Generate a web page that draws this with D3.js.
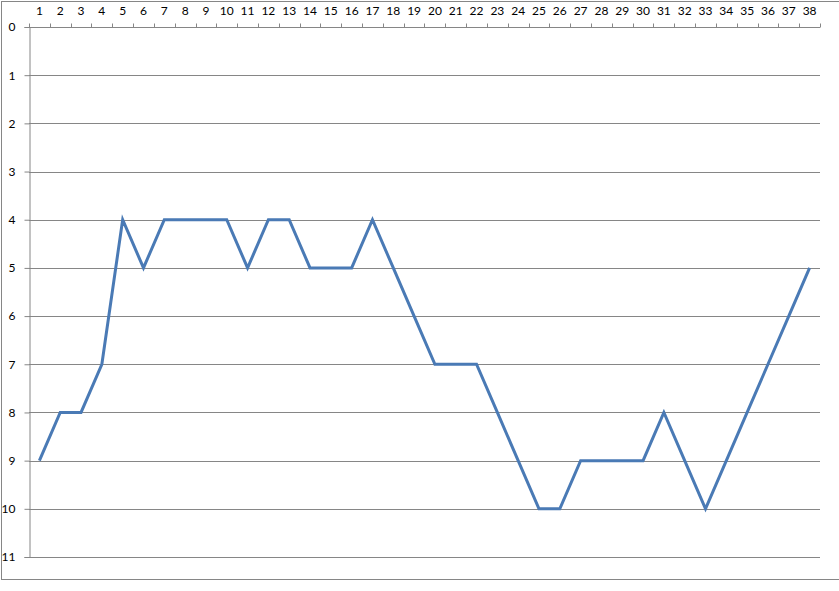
<!DOCTYPE html>
<html>
<head>
<meta charset="utf-8">
<script src="https://cdn.jsdelivr.net/npm/d3@7"></script>
<style>
  body { margin: 0; background: #fff; }
  svg { display: block; font-family: Lato, "Open Sans", sans-serif; }
</style>
</head>
<body>
<script>
const categories = d3.range(1, 39);
const values = [9, 8, 8, 7, 4, 5, 4, 4, 4, 4, 5, 4, 4, 5, 5, 5, 4, 5, 6, 7,
                7, 7, 8, 9, 10, 10, 9, 9, 9, 9, 8, 9, 10, 9, 8, 7, 6, 5];
const yTicks = d3.range(0, 12);

const width = 839, height = 591;
const margin = {top: 27, right: 19, bottom: 34, left: 29};

const svg = d3.select('body').append('svg')
  .attr('width', width)
  .attr('height', height);

// chart area border
svg.append('rect')
  .attr('x', 1.5).attr('y', 1.5)
  .attr('width', width + 10).attr('height', 578)
  .attr('fill', 'none')
  .attr('stroke', '#868686');

const x = d3.scaleBand()
  .domain(categories)
  .range([margin.left, width - margin.right]);

const y = d3.scaleLinear()
  .domain([0, 11])
  .range([margin.top, height - margin.bottom]);

// gridlines
svg.append('g')
  .selectAll('line')
  .data(yTicks)
  .join('line')
  .attr('x1', margin.left)
  .attr('x2', width - margin.right)
  .attr('y1', d => Math.round(y(d)) + 0.5)
  .attr('y2', d => Math.round(y(d)) + 0.5)
  .attr('stroke', '#868686');

// y axis
const yAxis = svg.append('g')
  .attr('transform', `translate(${margin.left + 0.5},0)`)
  .call(d3.axisLeft(y).tickValues(yTicks).tickSize(5).tickPadding(9));
yAxis.selectAll('.domain, line').attr('stroke', '#868686');
yAxis.selectAll('text').attr('font-size', 12).attr('fill', '#000')
  .attr('font-family', 'Lato, "Open Sans", sans-serif');

// x axis (top) - ticks at band boundaries
const xAxis = svg.append('g')
  .attr('transform', `translate(0,${margin.top + 0.5})`);
xAxis.append('line')
  .attr('x1', margin.left).attr('x2', width - margin.right)
  .attr('stroke', '#868686');
xAxis.selectAll('line.tick')
  .data(categories.concat([null]))
  .join('line')
  .attr('class', 'tick')
  .attr('x1', (d, i) => Math.round(margin.left + i * x.step()) + 0.5)
  .attr('x2', (d, i) => Math.round(margin.left + i * x.step()) + 0.5)
  .attr('y1', -4).attr('y2', 0)
  .attr('stroke', '#868686');
xAxis.selectAll('text')
  .data(categories)
  .join('text')
  .attr('x', d => x(d) + x.bandwidth() / 2)
  .attr('y', -16)
  .attr('text-anchor', 'middle')
  .attr('dominant-baseline', 'middle')
  .attr('font-size', 12)
  .text(d => d);

// line
const line = d3.line()
  .x((d, i) => x(categories[i]) + x.bandwidth() / 2)
  .y(d => y(d));

svg.append('path')
  .datum(values)
  .attr('d', line)
  .attr('fill', 'none')
  .attr('stroke', '#4a7ab5')
  .attr('stroke-width', 3)
  .attr('stroke-linejoin', 'miter');
</script>
</body>
</html>
